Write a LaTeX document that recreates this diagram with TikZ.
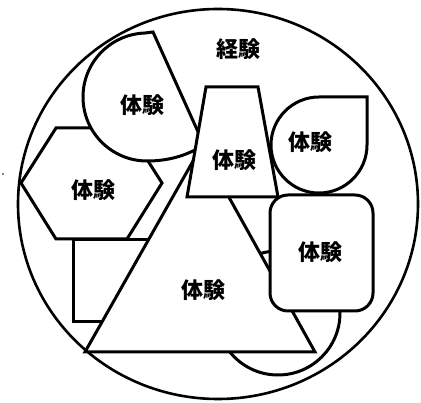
\documentclass[tikz,border=0pt]{standalone}
\usepackage{fontspec}
\newfontfamily\jp{Noto Sans CJK JP}
\begin{document}
\begin{tikzpicture}[x=1pt,y=-1pt,
  shp/.style={draw=black,fill=white,line width=3pt,line join=miter},
  lbl/.style={font=\jp\bfseries\fontsize{22}{26}\selectfont,inner sep=0pt}]
\useasboundingbox (0,0) rectangle (421,403);
% big circle
\draw[line width=2.6pt,fill=white] (218,204) ellipse [x radius=200, y radius=195];
% bottom circle (behind)
\draw[shp] (278,313) circle [radius=62];
% rectangle behind hexagon
\draw[shp] (73,240) rectangle (175,322);
% hexagon
\draw[shp] (21,183) -- (56,128) -- (127,128) -- (162,183) -- (127,239) -- (56,239) -- cycle;
% triangle
\draw[shp] (201,147) -- (315,352) -- (85,352) -- cycle;
% sector / drop shape
\draw[shp] (153,32) -- (204,145) .. controls (186,156) and (168,161) .. (147,161)
  arc[start angle=90, end angle=268, radius=64] -- cycle;
% trapezoid
\draw[shp] (206,87) -- (258,87) -- (278,197) -- (187,197) -- cycle;
% right teardrop
\draw[shp] (319,97) arc[start angle=270, end angle=0, radius=48] -- (367,97) -- cycle;
% rounded rectangle
\draw[shp,rounded corners=18pt] (270,195) rectangle (373,311);
% dot
\fill (3,174) circle [radius=0.9];
% labels
\node[lbl] (exp) at (238,49) {経験};
\node[lbl] (s1) at (142,105) {体験};
\node[lbl] (s2) at (234,160) {体験};
\node[lbl] (s3) at (310,142) {体験};
\node[lbl] (s4) at (93,190) {体験};
\node[lbl] (s5) at (320,252) {体験};
\node[lbl] (s6) at (203,290) {体験};
\end{tikzpicture}
\end{document}
